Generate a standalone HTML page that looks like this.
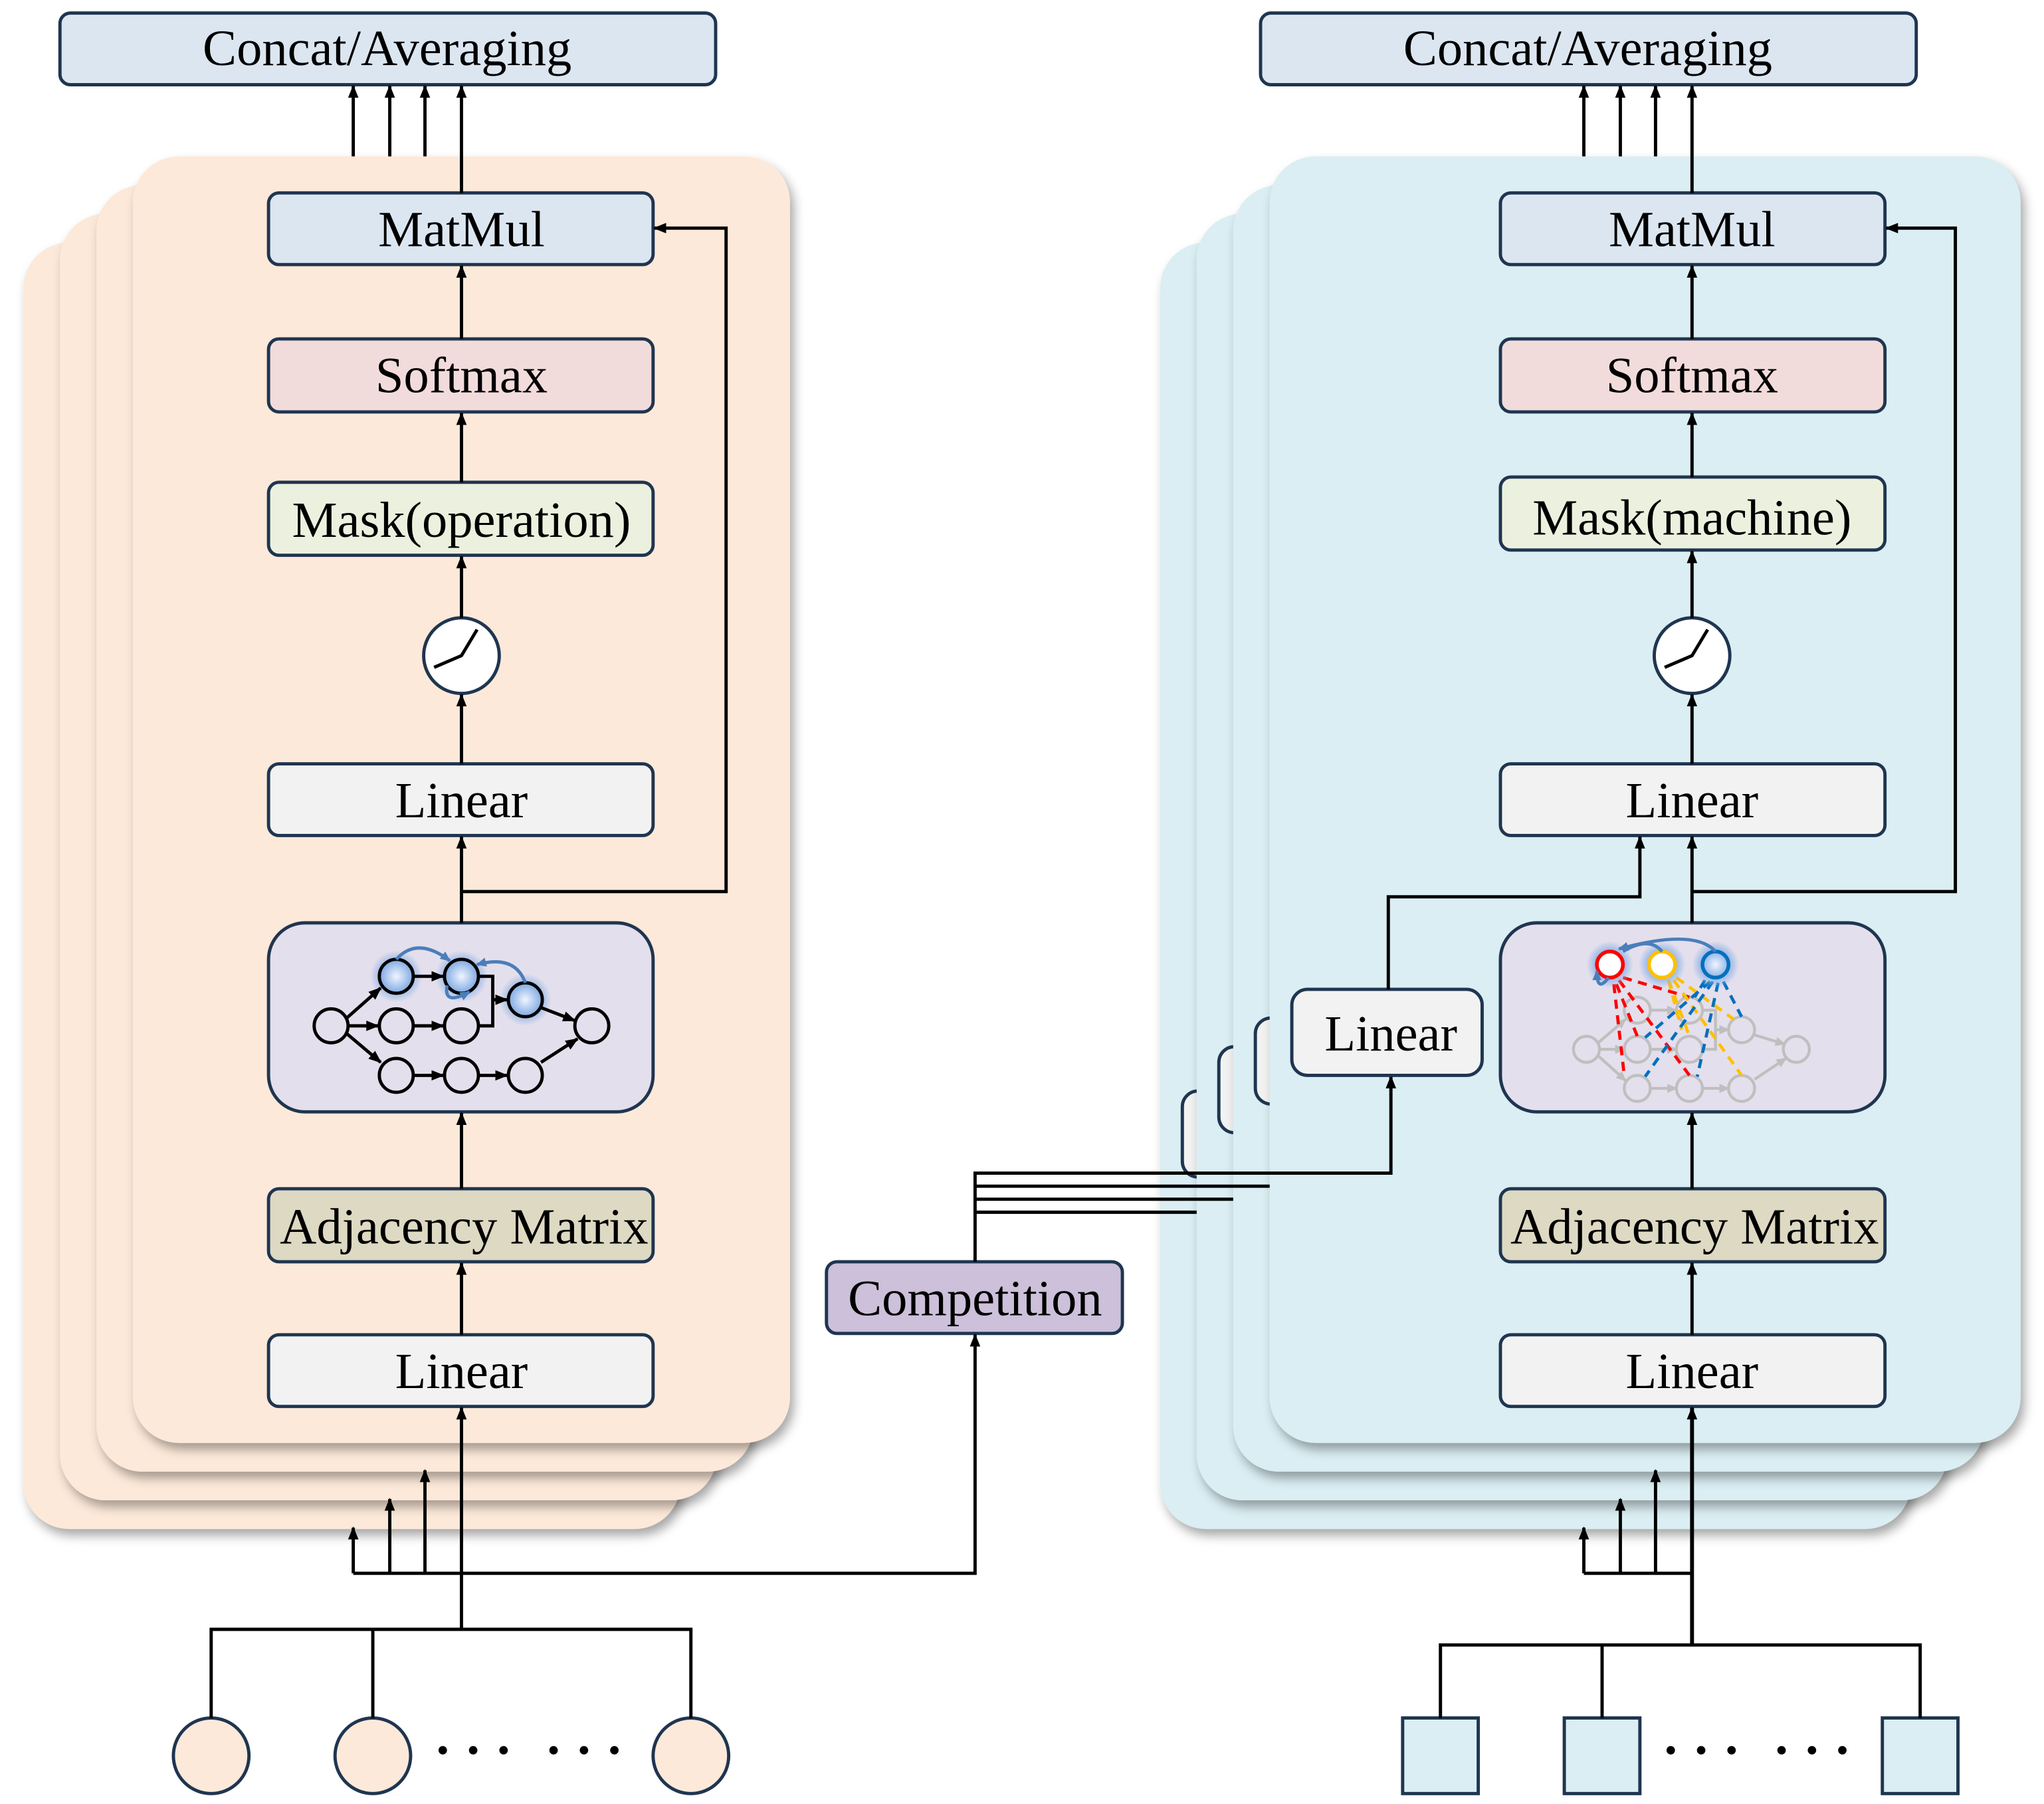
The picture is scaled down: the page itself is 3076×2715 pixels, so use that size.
<!DOCTYPE html>
<html><head><meta charset="utf-8">
<style>
html,body{margin:0;padding:0;background:#fff;}
svg{display:block;}
text{font-family:"Liberation Serif",serif;fill:#000;}
</style></head>
<body>
<svg width="3076" height="2715" viewBox="0 0 1568 1384" preserveAspectRatio="none" xmlns="http://www.w3.org/2000/svg">
<defs>
<marker id="ar" markerWidth="10" markerHeight="12" refX="9" refY="5" orient="auto" markerUnits="userSpaceOnUse">
<path d="M0,1 L10,5 L0,9 Z" fill="#000"/>
</marker>
<marker id="ag" markerWidth="8" markerHeight="8" refX="7" refY="4" orient="auto" markerUnits="userSpaceOnUse">
<path d="M0,0.5 L8,4 L0,7.5 Z" fill="#bfbfbf"/>
</marker>
<marker id="ab" markerWidth="8" markerHeight="8" refX="7" refY="4" orient="auto" markerUnits="userSpaceOnUse">
<path d="M0,0.5 L8,4 L0,7.5 Z" fill="#4a7ebb"/>
</marker>
<filter id="sh" x="-10%" y="-10%" width="130%" height="130%">
<feDropShadow dx="3" dy="5" stdDeviation="4" flood-color="#000" flood-opacity="0.35"/>
</filter>
<radialGradient id="glow">
<stop offset="0" stop-color="#f0f4ff"/><stop offset="0.55" stop-color="#8fb4e6"/><stop offset="1" stop-color="#8fb4e6" stop-opacity="0"/>
</radialGradient>
</defs>

<g>
<rect x="18" y="186" width="504" height="987" rx="35" fill="#fde9d9" filter="url(#sh)"/>
<rect x="46" y="164" width="504" height="987" rx="35" fill="#fde9d9" filter="url(#sh)"/>
<rect x="74" y="142" width="504" height="987" rx="35" fill="#fde9d9" filter="url(#sh)"/>
<rect x="102" y="120" width="504" height="987" rx="35" fill="#fde9d9" filter="url(#sh)"/>
</g>
<g stroke="#1f3550" stroke-width="2.5">
<rect x="46" y="10" width="503" height="55" rx="8" fill="#dce6f1"/>
<rect x="206" y="148" width="295" height="55" rx="8" fill="#dce6f1"/>
<rect x="206" y="260" width="295" height="56" rx="8" fill="#f2dcdb"/>
<rect x="206" y="370" width="295" height="56" rx="8" fill="#ebf1de"/>
<circle cx="354" cy="503" r="29" fill="#fff"/>
<rect x="206" y="586" width="295" height="55" rx="8" fill="#f2f2f2"/>
<rect x="206" y="708" width="295" height="145" rx="28" fill="#e4dfec"/>
<rect x="206" y="912" width="295" height="56" rx="8" fill="#ddd9c3"/>
<rect x="206" y="1024" width="295" height="55" rx="8" fill="#f2f2f2"/>
<circle cx="162" cy="1347" r="29" fill="#fde9d9"/>
<circle cx="286" cy="1347" r="29" fill="#fde9d9"/>
<circle cx="530" cy="1347" r="29" fill="#fde9d9"/>
<rect x="634" y="968" width="227" height="55" rx="8" fill="#ccc0da"/>
</g>
<polyline points="333,512 354,503 366,483" fill="none" stroke="#000" stroke-width="2.5"/>
<g font-size="39" text-anchor="middle">
<text x="297" y="50">Concat/Averaging</text>
<text x="354" y="189">MatMul</text>
<text x="354" y="301">Softmax</text>
<text x="354" y="412">Mask(operation)</text>
<text x="354" y="627">Linear</text>
<text x="356" y="954">Adjacency Matrix</text>
<text x="354" y="1065">Linear</text>
<text x="748" y="1009">Competition</text>
</g>
<g font-size="40" font-weight="bold" text-anchor="middle"><text x="363" y="1356">· · ·</text><text x="448" y="1356">· · ·</text></g>
<g stroke="#000" stroke-width="2.5" fill="none">
<line x1="271" y1="120" x2="271" y2="66" marker-end="url(#ar)"/>
<line x1="299" y1="120" x2="299" y2="66" marker-end="url(#ar)"/>
<line x1="326" y1="120" x2="326" y2="66" marker-end="url(#ar)"/>
<line x1="354" y1="148" x2="354" y2="66" marker-end="url(#ar)"/>
<line x1="354" y1="260" x2="354" y2="204" marker-end="url(#ar)"/>
<line x1="354" y1="370" x2="354" y2="317" marker-end="url(#ar)"/>
<line x1="354" y1="474" x2="354" y2="427" marker-end="url(#ar)"/>
<line x1="354" y1="586" x2="354" y2="533" marker-end="url(#ar)"/>
<line x1="354" y1="708" x2="354" y2="642" marker-end="url(#ar)"/>
<polyline points="354,684 557,684 557,175 502,175" marker-end="url(#ar)"/>
<line x1="354" y1="912" x2="354" y2="854" marker-end="url(#ar)"/>
<line x1="354" y1="1024" x2="354" y2="969" marker-end="url(#ar)"/>
<line x1="354" y1="1250" x2="354" y2="1080" marker-end="url(#ar)"/>
<polyline points="162,1318 162,1250 530,1250 530,1318"/>
<line x1="286" y1="1250" x2="286" y2="1318"/>
<polyline points="271,1207 748,1207 748,1024" marker-end="url(#ar)"/>
<line x1="271" y1="1207" x2="271" y2="1172" marker-end="url(#ar)"/>
<line x1="299" y1="1207" x2="299" y2="1150" marker-end="url(#ar)"/>
<line x1="326" y1="1207" x2="326" y2="1128" marker-end="url(#ar)"/>
</g>
<g>
<circle cx="304" cy="749" r="20" fill="url(#glow)"/>
<circle cx="354" cy="749" r="20" fill="url(#glow)"/>
<circle cx="403" cy="767" r="20" fill="url(#glow)"/>
</g>
<g stroke="#000" stroke-width="2.5" fill="none">
<line x1="266" y1="781" x2="292" y2="758" marker-end="url(#ar)"/>
<line x1="267" y1="787" x2="290" y2="787" marker-end="url(#ar)"/>
<line x1="266" y1="793" x2="292" y2="815" marker-end="url(#ar)"/>
<line x1="317" y1="749" x2="340" y2="749" marker-end="url(#ar)"/>
<line x1="317" y1="787" x2="340" y2="787" marker-end="url(#ar)"/>
<line x1="317" y1="825" x2="340" y2="825" marker-end="url(#ar)"/>
<line x1="367" y1="825" x2="389" y2="825" marker-end="url(#ar)"/>
<polyline points="367,749 378,749 378,787 367,787"/>
<line x1="378" y1="767" x2="389" y2="767" marker-end="url(#ar)"/>
<line x1="415" y1="773" x2="441" y2="783" marker-end="url(#ar)"/>
<line x1="415" y1="815" x2="443" y2="797" marker-end="url(#ar)"/>
<circle cx="254" cy="787" r="13"/>
<circle cx="304" cy="749" r="13"/><circle cx="354" cy="749" r="13"/><circle cx="403" cy="767" r="13"/>
<circle cx="304" cy="787" r="13"/><circle cx="354" cy="787" r="13"/>
<circle cx="304" cy="825" r="13"/><circle cx="354" cy="825" r="13"/><circle cx="403" cy="825" r="13"/>
<circle cx="454" cy="787" r="13"/>
</g>
<g stroke="#4a7ebb" stroke-width="2.5" fill="none">
<path d="M304,736 Q320,718 345,737" marker-end="url(#ab)"/>
<path d="M403,754 Q395,732 366,740" marker-end="url(#ab)"/>
<path d="M343,756 Q340,772 360,761" marker-end="url(#ab)"/>
</g>

<g>
<rect x="890" y="186" width="576" height="987" rx="35" fill="#daeef3" filter="url(#sh)"/>
<rect x="907" y="837" width="146" height="66" rx="12" fill="#f2f2f2" stroke="#1f3550" stroke-width="2.5"/>
<rect x="918" y="164" width="576" height="987" rx="35" fill="#daeef3" filter="url(#sh)"/>
<rect x="935" y="803" width="146" height="66" rx="12" fill="#f2f2f2" stroke="#1f3550" stroke-width="2.5"/>
<rect x="946" y="142" width="576" height="987" rx="35" fill="#daeef3" filter="url(#sh)"/>
<rect x="963" y="781" width="146" height="66" rx="12" fill="#f2f2f2" stroke="#1f3550" stroke-width="2.5"/>
<rect x="974" y="120" width="576" height="987" rx="35" fill="#daeef3" filter="url(#sh)"/>
</g>
<g stroke="#000" stroke-width="2.5" fill="none">
<polyline points="748,968 748,900 1067,900 1067,826" marker-end="url(#ar)"/>
<line x1="748" y1="910" x2="974" y2="910"/>
<line x1="748" y1="920" x2="946" y2="920"/>
<line x1="748" y1="930" x2="918" y2="930"/>
</g>
<g>
<g stroke="#1f3550" stroke-width="2.5">
<rect x="967" y="10" width="503" height="55" rx="8" fill="#dce6f1"/>
<rect x="1151" y="148" width="295" height="55" rx="8" fill="#dce6f1"/>
<rect x="1151" y="260" width="295" height="56" rx="8" fill="#f2dcdb"/>
<rect x="1151" y="366" width="295" height="56" rx="8" fill="#ebf1de"/>
<circle cx="1298" cy="503" r="29" fill="#fff"/>
<rect x="1151" y="586" width="295" height="55" rx="8" fill="#f2f2f2"/>
<rect x="1151" y="708" width="295" height="145" rx="28" fill="#e4dfec"/>
<rect x="1151" y="912" width="295" height="56" rx="8" fill="#ddd9c3"/>
<rect x="1151" y="1024" width="295" height="55" rx="8" fill="#f2f2f2"/>
<rect x="991" y="759" width="146" height="66" rx="12" fill="#f2f2f2"/>
<rect x="1076" y="1318" width="58" height="58" fill="#daeef3"/>
<rect x="1200" y="1318" width="58" height="58" fill="#daeef3"/>
<rect x="1444" y="1318" width="58" height="58" fill="#daeef3"/>
</g>
<polyline points="1277,512 1298,503 1310,483" fill="none" stroke="#000" stroke-width="2.5"/>
<g font-size="39" text-anchor="middle">
<text x="1218" y="50">Concat/Averaging</text>
<text x="1298" y="189">MatMul</text>
<text x="1298" y="301">Softmax</text>
<text x="1298" y="410">Mask(machine)</text>
<text x="1298" y="627">Linear</text>
<text x="1300" y="954">Adjacency Matrix</text>
<text x="1298" y="1065">Linear</text>
<text x="1067" y="806">Linear</text>
</g>
<g font-size="40" font-weight="bold" text-anchor="middle"><text x="1305" y="1356">· · ·</text><text x="1390" y="1356">· · ·</text></g>
<g stroke="#000" stroke-width="2.5" fill="none">
<line x1="1215" y1="120" x2="1215" y2="66" marker-end="url(#ar)"/>
<line x1="1243" y1="120" x2="1243" y2="66" marker-end="url(#ar)"/>
<line x1="1270" y1="120" x2="1270" y2="66" marker-end="url(#ar)"/>
<line x1="1298" y1="148" x2="1298" y2="66" marker-end="url(#ar)"/>
<line x1="1298" y1="260" x2="1298" y2="204" marker-end="url(#ar)"/>
<line x1="1298" y1="366" x2="1298" y2="317" marker-end="url(#ar)"/>
<line x1="1298" y1="474" x2="1298" y2="423" marker-end="url(#ar)"/>
<line x1="1298" y1="586" x2="1298" y2="533" marker-end="url(#ar)"/>
<line x1="1298" y1="708" x2="1298" y2="642" marker-end="url(#ar)"/>
<polyline points="1298,684 1500,684 1500,175 1447,175" marker-end="url(#ar)"/>
<polyline points="1065,759 1065,688 1258,688 1258,642" marker-end="url(#ar)"/>
<line x1="1298" y1="912" x2="1298" y2="854" marker-end="url(#ar)"/>
<line x1="1298" y1="1024" x2="1298" y2="969" marker-end="url(#ar)"/>
<line x1="1298" y1="1262" x2="1298" y2="1080" marker-end="url(#ar)" stroke-width="3"/>
<polyline points="1105,1318 1105,1262 1473,1262 1473,1318"/>
<line x1="1229" y1="1262" x2="1229" y2="1318"/>
<polyline points="1215,1207 1298,1207"/>
<line x1="1215" y1="1207" x2="1215" y2="1172" marker-end="url(#ar)"/>
<line x1="1243" y1="1207" x2="1243" y2="1150" marker-end="url(#ar)"/>
<line x1="1270" y1="1207" x2="1270" y2="1128" marker-end="url(#ar)"/>
</g>
<g stroke="#bfbfbf" stroke-width="2.2" fill="none">
<line x1="1226" y1="800" x2="1247" y2="782" marker-end="url(#ag)"/>
<line x1="1227" y1="805" x2="1246" y2="805" marker-end="url(#ag)"/>
<line x1="1226" y1="810" x2="1247" y2="829" marker-end="url(#ag)"/>
<line x1="1266" y1="775" x2="1286" y2="775" marker-end="url(#ag)"/>
<line x1="1266" y1="805" x2="1286" y2="805" marker-end="url(#ag)"/>
<line x1="1266" y1="835" x2="1286" y2="835" marker-end="url(#ag)"/>
<line x1="1306" y1="835" x2="1326" y2="835" marker-end="url(#ag)"/>
<polyline points="1306,775 1316,775 1316,805 1306,805"/>
<line x1="1316" y1="790" x2="1326" y2="790" marker-end="url(#ag)"/>
<line x1="1346" y1="794" x2="1369" y2="801" marker-end="url(#ag)"/>
<line x1="1346" y1="828" x2="1370" y2="812" marker-end="url(#ag)"/>
<circle cx="1217" cy="805" r="10"/>
<circle cx="1256" cy="775" r="10"/><circle cx="1296" cy="775" r="10"/><circle cx="1336" cy="790" r="10"/>
<circle cx="1256" cy="805" r="10"/><circle cx="1296" cy="805" r="10"/>
<circle cx="1256" cy="835" r="10"/><circle cx="1296" cy="835" r="10"/><circle cx="1336" cy="835" r="10"/>
<circle cx="1378" cy="805" r="10"/>
</g>
<g stroke-width="2.4" stroke-dasharray="7,5" fill="none">
<g stroke="#ff0000">
<line x1="1240" y1="755" x2="1256" y2="795"/>
<line x1="1242" y1="752" x2="1296" y2="825"/>
<line x1="1245" y1="750" x2="1296" y2="765"/>
<line x1="1238" y1="755" x2="1246" y2="825"/>
</g>
<g stroke="#ffc000">
<line x1="1280" y1="752" x2="1296" y2="795"/>
<line x1="1284" y1="752" x2="1336" y2="825"/>
<line x1="1286" y1="750" x2="1330" y2="782"/>
<line x1="1280" y1="752" x2="1290" y2="790"/>
</g>
<g stroke="#0070c0">
<line x1="1312" y1="753" x2="1262" y2="796"/>
<line x1="1314" y1="753" x2="1262" y2="826"/>
<line x1="1318" y1="754" x2="1302" y2="826"/>
<line x1="1322" y1="753" x2="1336" y2="780"/>
<line x1="1308" y1="752" x2="1300" y2="765"/>
</g>
</g>
<circle cx="1235" cy="740" r="18" fill="url(#glow)"/>
<circle cx="1275" cy="740" r="18" fill="url(#glow)"/>
<circle cx="1316" cy="740" r="18" fill="url(#glow)"/>
<circle cx="1235" cy="740" r="10" fill="#fff" stroke="#ff0000" stroke-width="2.8"/>
<circle cx="1275" cy="740" r="10" fill="#fff" stroke="#ffc000" stroke-width="2.8"/>
<circle cx="1316" cy="740" r="10" fill="none" stroke="#0070c0" stroke-width="2.8"/>
<g stroke="#4a7ebb" stroke-width="2.5" fill="none">
<path d="M1316,730 Q1300,712 1242,728" marker-end="url(#ab)"/>
<path d="M1275,730 Q1265,718 1245,730"/>
<path d="M1234,750 Q1225,762 1225,745" marker-end="url(#ab)"/>
</g>
</g>
</svg>
</body></html>
